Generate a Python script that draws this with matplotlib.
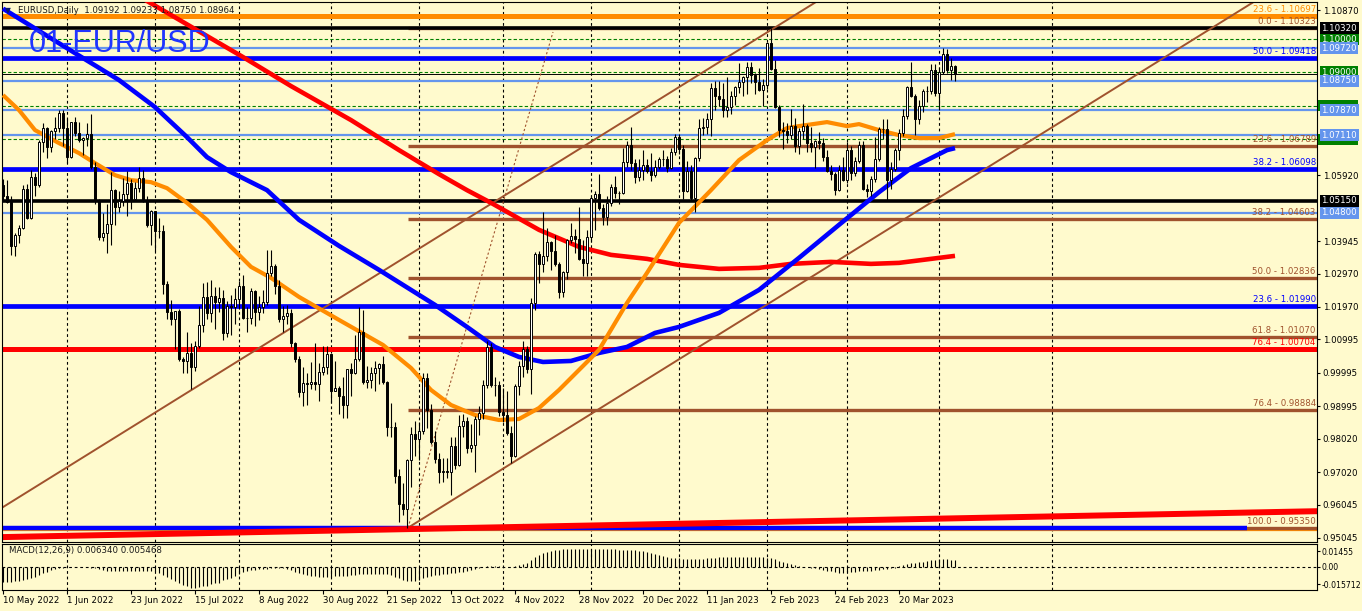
import matplotlib
matplotlib.use('Agg')
import matplotlib.pyplot as plt
from matplotlib.patches import Rectangle
from matplotlib.transforms import blended_transform_factory
import numpy as np

# ---------------- DATA ----------------
open_ = [
 1.0561,1.0530,1.0512,1.0380,1.0412,1.0435,1.0551,1.0464,1.0585,1.0563,1.0690,1.0734,1.0675,1.0724,1.0733,1.0778,
 1.0733,1.0647,1.0750,1.0718,1.0697,1.0703,1.0716,1.0617,1.0518,1.0407,1.0418,1.0446,1.0547,1.0495,1.0514,1.0534,1.0567,1.0520,1.0554,1.0583,1.0518,1.0443,
 1.0484,1.0426,1.0424,1.0265,1.0182,1.0161,1.0184,1.0040,1.0036,1.0060,1.0018,1.0080,1.0142,1.0227,1.0180,1.0229,1.0212,1.0223,1.0120,1.0199,1.0196,
 1.0222,1.0259,1.0163,1.0165,1.0246,1.0181,1.0196,1.0211,1.0298,1.0320,1.0260,1.0160,1.0170,1.0178,1.0088,1.0040,0.9943,0.9968,0.9966,0.9971,0.9965,1.0002,1.0018,
 1.0056,0.9945,0.9953,0.9929,0.9902,1.0010,1.0000,1.0041,1.0121,0.9973,0.9978,0.9998,1.0014,1.0027,0.9971,0.9837,0.9838,0.9690,0.9606,0.9592,0.9737,0.9817,
 0.9802,0.9826,0.9985,0.9889,0.9792,0.9740,0.9701,0.9706,0.9702,0.9780,0.9722,0.9839,0.9855,0.9774,0.9782,0.9862,0.9879,0.9964,1.0078,0.9963,0.9964,
 0.9882,0.9874,0.9818,0.9751,0.9960,1.0020,1.0072,1.0012,1.0209,1.0355,1.0325,1.0351,1.0392,1.0364,1.0325,1.0243,1.0303,1.0397,1.0409,1.0400,1.0342,1.0330,
 1.0406,1.0522,1.0535,1.0492,1.0467,1.0508,1.0556,1.0539,1.0538,1.0630,1.0682,1.0627,1.0585,1.0608,1.0623,1.0605,1.0592,1.0617,1.0640,1.0639,1.0612,1.0660,
 1.0705,1.0671,1.0545,1.0605,1.0522,1.0643,1.0732,1.0735,1.0761,1.0853,1.0828,1.0821,1.0788,1.0795,1.0828,1.0855,1.0870,1.0886,1.0915,1.0891,1.0870,1.0847,
 1.0862,1.0988,1.0911,1.0796,1.0727,1.0725,1.0712,1.0739,1.0678,1.0723,1.0739,1.0688,1.0675,1.0694,1.0687,1.0646,1.0605,1.0595,1.0546,1.0606,
 1.0576,1.0668,1.0597,1.0635,1.0682,1.0549,1.0544,1.0581,1.0641,1.0730,1.0731,1.0577,1.0610,1.0667,1.0718,1.0769,1.0856,1.0830,1.0760,1.0800,1.0843,1.0844,1.0906,
 1.0839,1.0900,1.0955,1.0907,1.0919]
high = [
 1.0579,1.0577,1.0530,1.0420,1.0444,1.0561,1.0564,1.0606,1.0599,1.0697,1.0748,1.0737,1.0727,1.0765,1.0787,1.0786,
 1.0764,1.0750,1.0765,1.0750,1.0705,1.0749,1.0774,1.0630,1.0520,1.0480,1.0506,1.0601,1.0550,1.0545,1.0582,1.0605,1.0580,1.0570,1.0615,1.0606,1.0530,1.0488,
 1.0486,1.0463,1.0443,1.0275,1.0219,1.0186,1.0190,1.0046,1.0122,1.0088,1.0096,1.0199,1.0269,1.0273,1.0278,1.0256,1.0258,1.0249,1.0216,1.0234,1.0254,
 1.0274,1.0294,1.0197,1.0254,1.0249,1.0230,1.0248,1.0368,1.0368,1.0325,1.0277,1.0201,1.0202,1.0192,1.0091,1.0050,1.0017,0.9999,1.0033,1.0090,1.0028,1.0079,1.0080,
 1.0057,1.0034,0.9960,0.9988,1.0011,1.0029,1.0112,1.0198,1.0187,1.0019,1.0017,1.0036,1.0030,1.0051,0.9976,0.9908,0.9851,0.9711,0.9670,0.9740,0.9837,0.9855,
 0.9851,0.9999,0.9998,0.9906,0.9826,0.9759,0.9744,0.9745,0.9807,0.9808,0.9872,0.9875,0.9866,0.9847,0.9871,0.9900,0.9977,1.0094,1.0088,0.9986,0.9976,
 0.9954,0.9946,0.9840,0.9966,1.0034,1.0094,1.0079,1.0223,1.0363,1.0366,1.0481,1.0434,1.0394,1.0414,1.0331,1.0306,1.0400,1.0449,1.0430,1.0497,1.0398,1.0428,
 1.0533,1.0545,1.0595,1.0505,1.0528,1.0566,1.0588,1.0545,1.0673,1.0695,1.0737,1.0640,1.0640,1.0667,1.0639,1.0659,1.0636,1.0646,1.0668,1.0648,1.0673,1.0714,
 1.0714,1.0681,1.0633,1.0623,1.0647,1.0760,1.0762,1.0777,1.0868,1.0874,1.0874,1.0868,1.0887,1.0843,1.0859,1.0927,1.0888,1.0930,1.0930,1.0899,1.0914,1.0880,
 1.0991,1.1033,1.0937,1.0802,1.0752,1.0749,1.0790,1.0763,1.0734,1.0805,1.0744,1.0736,1.0696,1.0720,1.0704,1.0667,1.0622,1.0602,1.0621,1.0646,
 1.0691,1.0680,1.0645,1.0694,1.0693,1.0564,1.0590,1.0706,1.0736,1.0760,1.0760,1.0632,1.0673,1.0730,1.0789,1.0860,1.0930,1.0836,1.0817,1.0850,1.0860,1.0926,1.0925,
 1.0917,1.0973,1.0969,1.0942,1.0923]
low = [
 1.0515,1.0508,1.0354,1.0349,1.0390,1.0430,1.0460,1.0460,1.0530,1.0556,1.0661,1.0644,1.0662,1.0700,1.0720,1.0680,
 1.0627,1.0642,1.0710,1.0690,1.0653,1.0680,1.0610,1.0505,1.0398,1.0396,1.0359,1.0382,1.0444,1.0483,1.0500,1.0470,1.0491,1.0513,1.0541,1.0512,1.0437,1.0382,
 1.0366,1.0405,1.0236,1.0162,1.0144,1.0072,1.0034,0.9999,0.9998,0.9952,1.0006,1.0075,1.0123,1.0160,1.0153,1.0131,1.0182,1.0097,1.0106,1.0113,1.0145,
 1.0190,1.0160,1.0123,1.0147,1.0141,1.0159,1.0180,1.0202,1.0290,1.0236,1.0152,1.0122,1.0145,1.0077,1.0033,0.9926,0.9901,0.9902,0.9951,0.9947,0.9914,0.9993,0.9997,
 0.9910,0.9944,0.9877,0.9864,0.9863,0.9930,0.9995,1.0035,0.9966,0.9955,0.9955,0.9945,0.9967,0.9966,0.9810,0.9807,0.9669,0.9553,0.9574,0.9535,0.9658,0.9749,
 0.9737,0.9815,0.9834,0.9787,0.9730,0.9670,0.9671,0.9685,0.9632,0.9711,0.9720,0.9807,0.9759,0.9762,0.9703,0.9812,0.9860,0.9955,0.9958,0.9930,0.9871,
 0.9852,0.9814,0.9730,0.9746,0.9934,0.9988,0.9998,0.9935,1.0189,1.0270,1.0302,1.0335,1.0309,1.0320,1.0223,1.0226,1.0280,1.0389,1.0358,1.0338,1.0290,1.0289,
 1.0392,1.0429,1.0487,1.0443,1.0443,1.0498,1.0524,1.0506,1.0535,1.0615,1.0607,1.0568,1.0574,1.0577,1.0599,1.0574,1.0585,1.0610,1.0618,1.0600,1.0609,1.0651,
 1.0656,1.0520,1.0542,1.0515,1.0483,1.0634,1.0713,1.0715,1.0709,1.0786,1.0799,1.0767,1.0766,1.0775,1.0802,1.0838,1.0828,1.0836,1.0869,1.0835,1.0844,1.0800,
 1.0851,1.0907,1.0794,1.0707,1.0669,1.0687,1.0701,1.0660,1.0656,1.0700,1.0660,1.0662,1.0613,1.0670,1.0633,1.0600,1.0577,1.0533,1.0544,1.0575,
 1.0568,1.0577,1.0588,1.0627,1.0548,1.0525,1.0530,1.0570,1.0635,1.0700,1.0516,1.0551,1.0605,1.0636,1.0710,1.0760,1.0826,1.0713,1.0745,1.0782,1.0810,1.0836,1.0830,
 1.0788,1.0896,1.0899,1.0876,1.0875]
close = [
 1.0530,1.0512,1.0380,1.0412,1.0435,1.0551,1.0464,1.0585,1.0563,1.0690,1.0734,1.0675,1.0724,1.0733,1.0778,1.0733,
 1.0647,1.0750,1.0718,1.0697,1.0703,1.0716,1.0617,1.0518,1.0407,1.0418,1.0446,1.0547,1.0495,1.0514,1.0534,1.0567,1.0520,1.0554,1.0583,1.0518,1.0443,1.0484,
 1.0426,1.0424,1.0265,1.0182,1.0161,1.0184,1.0040,1.0036,1.0060,1.0018,1.0080,1.0142,1.0227,1.0180,1.0229,1.0212,1.0223,1.0120,1.0199,1.0196,1.0222,
 1.0259,1.0163,1.0165,1.0246,1.0181,1.0196,1.0211,1.0298,1.0320,1.0260,1.0160,1.0170,1.0178,1.0088,1.0040,0.9943,0.9968,0.9966,0.9971,0.9965,1.0002,1.0018,1.0056,
 0.9945,0.9953,0.9929,0.9902,1.0010,1.0000,1.0041,1.0121,0.9973,0.9978,0.9998,1.0014,1.0027,0.9971,0.9837,0.9838,0.9690,0.9606,0.9592,0.9737,0.9817,0.9802,
 0.9826,0.9985,0.9889,0.9792,0.9740,0.9701,0.9706,0.9702,0.9780,0.9722,0.9839,0.9855,0.9774,0.9782,0.9862,0.9879,0.9964,1.0078,0.9963,0.9964,0.9882,
 0.9874,0.9818,0.9751,0.9960,1.0020,1.0072,1.0012,1.0209,1.0355,1.0325,1.0351,1.0392,1.0364,1.0325,1.0243,1.0303,1.0397,1.0409,1.0400,1.0342,1.0330,1.0406,
 1.0522,1.0535,1.0492,1.0467,1.0508,1.0556,1.0539,1.0538,1.0630,1.0682,1.0627,1.0585,1.0608,1.0623,1.0605,1.0592,1.0617,1.0640,1.0639,1.0612,1.0660,1.0705,
 1.0671,1.0545,1.0605,1.0522,1.0643,1.0732,1.0735,1.0761,1.0853,1.0828,1.0821,1.0788,1.0795,1.0828,1.0855,1.0870,1.0886,1.0915,1.0891,1.0870,1.0847,1.0862,
 1.0988,1.0911,1.0796,1.0727,1.0725,1.0712,1.0739,1.0678,1.0723,1.0739,1.0688,1.0675,1.0694,1.0687,1.0646,1.0605,1.0595,1.0546,1.0606,1.0576,
 1.0668,1.0597,1.0635,1.0682,1.0549,1.0544,1.0581,1.0641,1.0730,1.0731,1.0577,1.0610,1.0667,1.0718,1.0769,1.0856,1.0830,1.0760,1.0800,1.0843,1.0844,1.0906,1.0839,
 1.0900,1.0955,1.0907,1.0920,1.0896]

# moving averages read at sample bars (bar index, price)
ma_blue_idx = [0, 20, 29, 38, 46, 51, 57, 66, 74, 84, 94, 102, 108, 116, 123, 129, 135, 142, 149, 156,
               163, 169, 179, 189, 199, 209, 219, 227, 236, 238]
ma_blue_val = [1.1091, 1.0943, 1.0877, 1.0796, 1.0706, 1.0646, 1.0601, 1.0547, 1.0458, 1.0380, 1.0308,
               1.0248, 1.0203, 1.0137, 1.0077, 1.0047, 1.0032, 1.0035, 1.0059, 1.0077, 1.0119, 1.0137,
               1.0179, 1.0248, 1.0344, 1.0443, 1.0541, 1.0613, 1.0667, 1.0673]
ma_red_idx = [30, 36, 60, 72, 87, 99, 109, 116, 122, 134, 144, 152, 161, 169, 179, 189, 197, 207, 217,
              224, 232, 238]
ma_red_val = [1.1156, 1.1114, 1.0946, 1.0859, 1.0757, 1.0667, 1.0595, 1.0547, 1.0509, 1.0428, 1.0377,
              1.0353, 1.0341, 1.0323, 1.0311, 1.0314, 1.0326, 1.0332, 1.0326, 1.0329, 1.0341, 1.0350]
ma_orange_idx = [0, 4, 8, 14, 19, 23, 28, 32, 37, 41, 46, 51, 57, 62, 67, 74, 84, 95, 102, 107, 112,
                 118, 124, 129, 134, 139, 144, 149, 156, 161, 169, 177, 184, 191, 196, 199, 206, 211,
                 214, 219, 224, 229, 234, 238]
ma_orange_val = [1.0832, 1.0787, 1.0727, 1.0688, 1.0658, 1.0628, 1.0592, 1.0577, 1.0571, 1.0553, 1.0509,
                 1.0458, 1.0377, 1.0317, 1.0284, 1.0227, 1.0158, 1.0083, 1.0014, 0.9948, 0.9903, 0.9873,
                 0.9858, 0.9861, 0.9894, 0.9948, 1.0008, 1.0068, 1.0209, 1.0299, 1.0449, 1.0547, 1.0637,
                 1.0697, 1.0733, 1.0739, 1.0751, 1.0739, 1.0745, 1.0727, 1.0712, 1.0703, 1.0703, 1.0715]

macd_hist = [
 -0.0138,-0.0138,-0.0138,-0.0129,-0.0129,-0.0120,-0.0110,-0.0101,-0.0092,-0.0074,-0.0055,-0.0046,-0.0028,-0.0018,
 -0.0009,-0.0009,0.0,0.0,0.0,0.0,0.0,0.0,-0.0009,-0.0009,
 -0.0018,-0.0028,-0.0037,-0.0037,-0.0037,-0.0037,-0.0037,-0.0037,-0.0037,-0.0037,-0.0037,-0.0037,-0.0037,-0.0037,
 -0.0037,-0.0055,-0.0074,-0.0092,-0.0110,-0.0129,-0.0147,-0.0166,-0.0175,-0.0193,-0.0193,-0.0184,-0.0175,-0.0175,
 -0.0156,-0.0147,-0.0147,-0.0120,-0.0110,-0.0101,-0.0083,
 -0.0064,-0.0046,-0.0037,-0.0028,-0.0028,-0.0018,-0.0018,-0.0018,-0.0009,-0.0009,-0.0009,-0.0009,-0.0018,-0.0028,-0.0046,
 -0.0055,-0.0064,-0.0074,-0.0083,-0.0083,-0.0092,-0.0092,-0.0092,
 -0.0092,-0.0083,-0.0083,-0.0083,-0.0083,-0.0074,-0.0074,-0.0064,-0.0064,-0.0064,-0.0064,-0.0064,-0.0064,-0.0064,
 -0.0064,-0.0074,-0.0092,-0.0101,-0.0120,-0.0129,-0.0129,-0.0129,-0.0120,
 -0.0101,-0.0092,-0.0083,-0.0074,-0.0074,-0.0064,-0.0064,-0.0055,-0.0055,-0.0046,-0.0046,-0.0037,-0.0028,-0.0018,
 -0.0009,0.0,0.0009,0.0009,0.0009,0.0009,
 0.0,0.0,0.0,0.0009,0.0018,0.0028,0.0037,0.0064,0.0092,0.0110,0.0129,0.0138,0.0147,0.0156,0.0156,0.0166,
 0.0166,0.0166,0.0166,0.0166,0.0166,0.0166,0.0166,0.0166,0.0166,0.0166,0.0166,0.0166,0.0166,
 0.0156,0.0156,0.0156,0.0156,0.0156,
 0.0147,0.0147,0.0138,0.0129,0.0120,0.0110,0.0101,0.0092,0.0083,0.0083,0.0083,0.0074,0.0074,0.0074,0.0074,0.0074,0.0074,
 0.0083,0.0083,0.0083,0.0092,0.0092,0.0092,0.0092,0.0092,0.0092,0.0092,0.0092,0.0092,0.0092,0.0092,0.0092,0.0083,0.0083,0.0074,
 0.0055,0.0046,0.0037,0.0028,0.0018,0.0009,0.0,0.0,-0.0009,-0.0009,-0.0018,-0.0028,-0.0037,-0.0037,-0.0046,-0.0055,-0.0055,
 -0.0046,-0.0046,-0.0046,-0.0037,-0.0037,-0.0037,-0.0037,-0.0028,-0.0028,-0.0018,-0.0018,-0.0009,-0.0009,
 0.0009,0.0018,0.0028,0.0037,0.0037,0.0046,0.0046,0.0055,0.0064,0.0064,0.0074,0.0074,0.0074,0.0064,0.0064]

date_tick_idx = [0, 16, 32, 48, 64, 80, 96, 112, 128, 144, 160, 176, 192, 208, 224]
date_labels = ['10 May 2022', '1 Jun 2022', '23 Jun 2022', '15 Jul 2022', '8 Aug 2022', '30 Aug 2022',
               '21 Sep 2022', '13 Oct 2022', '4 Nov 2022', '28 Nov 2022', '20 Dec 2022', '11 Jan 2023',
               '2 Feb 2023', '24 Feb 2023', '20 Mar 2023']
month_sep_idx = [16, 38, 59, 82, 104, 125, 147, 169, 191, 211, 234, 262.25]

price_ticks = [1.10870, 1.05920, 1.03945, 1.02970, 1.01970, 1.00995, 0.99995, 0.98995, 0.98020,
               0.97020, 0.96045, 0.95045]
price_tick_labels = ['1.10870', '1.05920', '1.03945', '1.02970', '1.01970', '1.00995', '0.99995',
                     '0.98995', '0.98020', '0.97020', '0.96045', '0.95045']
macd_ticks = [0.01455, 0.0, -0.015712]
macd_tick_labels = ['0.01455', '0.00', '-0.015712']

# horizontal levels
green_levels = [1.10000, 1.09000]
green_hidden_levels = [1.08000, 1.07000]
cornflower_levels = [1.09720, 1.08750, 1.07870, 1.07110, 1.04800]
black_levels = [1.10320, 1.05150]
blue_fib_levels = [1.09418, 1.06098, 1.01990]
blue_fib_base = 0.95350
red_level = 1.00704
orange_level = 1.10697
orange_base = 0.95270
bid_price = 1.08964
brown_fib_start = 101.25
brown_fib_levels = [1.10323, 1.06789, 1.04603, 1.02836, 1.01070, 0.98884, 0.95350]

fib_text = ['23.6 - 1.10697', '0.0 - 1.10323', '50.0 - 1.09418', '23.6 - 1.06789', '38.2 - 1.06098',
            '38.2 - 1.04603', '50.0 - 1.02836', '23.6 - 1.01990', '61.8 - 1.01070', '76.4 - 1.00704',
            '76.4 - 0.98884', '100.0 - 0.95350']
fib_price = [1.10697, 1.10323, 1.09418, 1.06789, 1.06098, 1.04603, 1.02836, 1.01990, 1.01070, 1.00704,
             0.98884, 0.95350]

# trend lines (bar index, price)
upper_channel = [(0, 0.9597), (196, 1.1057)]
lower_channel = [(101.25, 0.9535), (312.25, 1.1108)]
dotted_ray = [(101.25, 0.9535), (137.5, 1.1021)]
red_trend = [(-1, 0.95068), (330, 0.95850)]

# ---------------- STYLE ----------------
BG = '#FFFACD'
SIENNA = '#A0522D'
ORANGE = '#FF8C00'
CORN = '#6495ED'
GREEN = '#008000'
BLUE = '#0000FF'
RED = '#FF0000'
FONT = 'DejaVu Sans'
FS = 6.2
fib_color = [ORANGE, SIENNA, BLUE, SIENNA, BLUE, SIENNA, SIENNA, BLUE, SIENNA, RED, SIENNA, SIENNA]

W, H = 1362, 611
fig = plt.figure(figsize=(W / 100, H / 100), dpi=100, facecolor=BG)


def rect(x0, y0, x1, y1):
    return [x0 / W, 1 - y1 / H, (x1 - x0) / W, (y1 - y0) / H]


ax = fig.add_axes(rect(2, 2, 1317, 541.5), facecolor=BG)
ax2 = fig.add_axes(rect(2, 543.5, 1317, 589.5), facecolor=BG)

XL = (-0.25, 328.5)
ax.set_xlim(*XL)
ax.set_ylim(0.94938, 1.11110)
ax2.set_xlim(*XL)
ax2.set_ylim(-0.0207, 0.02162)

for a in (ax, ax2):
    for s in a.spines.values():
        s.set_color('black')
        s.set_linewidth(0.8)
    for xs in month_sep_idx:
        a.axvline(xs, color='black', lw=0.8, ls=(0, (2.5, 2.5)), zorder=1)

# horizontal full-width levels
for v in green_levels + green_hidden_levels:
    ax.axhline(v, color=GREEN, lw=0.8, ls=(0, (3, 2)), zorder=2)
for v in cornflower_levels:
    ax.axhline(v, color=CORN, lw=1.6, zorder=2)
for v in black_levels:
    ax.axhline(v, color='black', lw=2.6, zorder=2.2)
for v in blue_fib_levels:
    ax.axhline(v, color=BLUE, lw=3.4, zorder=2.1)
ax.axhline(red_level, color=RED, lw=3.6, zorder=2.1)
ax.axhline(orange_level, color=ORANGE, lw=3.6, zorder=2.1)
ax.axhline(orange_base, color=ORANGE, lw=0.9, zorder=2)
ax.hlines(blue_fib_base, XL[0], 311, color=BLUE, lw=3.2, zorder=2.1)
ax.axhline(bid_price, color='black', lw=0.7, zorder=2.3)

# brown fib levels from the low
for v in brown_fib_levels:
    ax.hlines(v, brown_fib_start, XL[1], color=SIENNA, lw=2.4, zorder=2.0)

# trend lines
ax.axline(upper_channel[0], upper_channel[1], color=SIENNA, lw=1.4, zorder=2.5)
(lx0, ly0), (lx1, ly1) = lower_channel
slope = (ly1 - ly0) / (lx1 - lx0)
ax.plot([lx0, lx1, lx1 + 20], [ly0, ly1, ly1 + 20 * slope], color=SIENNA, lw=1.4, zorder=2.5)
ax.plot([p[0] for p in dotted_ray], [p[1] for p in dotted_ray], color=SIENNA, lw=0.8,
        ls=(0, (2, 2)), zorder=2.5)
ax.plot([p[0] for p in red_trend], [p[1] for p in red_trend], color=RED, lw=4.3, zorder=2.5,
        solid_capstyle='butt')

# moving averages
ax.plot(ma_red_idx, ma_red_val, color=RED, lw=3.3, zorder=3, solid_capstyle='butt')
ax.plot(ma_blue_idx, ma_blue_val, color=BLUE, lw=3.3, zorder=3, solid_capstyle='butt')
ax.plot(ma_orange_idx, ma_orange_val, color=ORANGE, lw=3.0, zorder=3, solid_capstyle='butt')

# candles
o = np.array(open_); h = np.array(high); l = np.array(low); c = np.array(close)
xi = np.arange(len(c))
ax.vlines(xi, l, h, color='black', lw=0.8, zorder=5)
bot = np.minimum(o, c)
hgt = np.maximum(np.abs(c - o), 0.00012)
cols = np.where(c >= o, 'white', 'black')
ax.bar(xi, hgt, bottom=bot, width=0.62, color=cols, edgecolor='black', linewidth=0.7, zorder=6)

# fib labels
for t, v, col in zip(fib_text, fib_price, fib_color):
    ax.annotate(t, xy=(328.2, v), xytext=(0, 1.6), textcoords='offset points', ha='right', va='bottom',
                fontsize=FS, color=col, family=FONT, zorder=7)

# title text
ax.text(27 / 1315 * (XL[1] - XL[0]) + XL[0], 1.10870 - (52 - 10) / 3336, '01-EUR/USD',
        fontsize=22, family='Liberation Sans', color='#2035ff', va='baseline', ha='left', zorder=4)

# header
fig.text(5 / W, 1 - 10.5 / H, '▼', fontsize=5.5, color='#0a1a6e', va='center', ha='left', family=FONT)
fig.text(18 / W, 1 - 10.5 / H, 'EURUSD,Daily  1.09192 1.09233 1.08750 1.08964', fontsize=FS,
         color='#1a1a1a', va='center', ha='left', family=FONT)

# right price axis
ax.set_xticks([])
ax.yaxis.tick_right()
ax.set_yticks(price_ticks)
ax.set_yticklabels(price_tick_labels)
ax.tick_params(axis='y', length=2.5, width=0.8, pad=1.6, labelsize=FS, colors='black')
for lab in ax.get_yticklabels():
    lab.set_family(FONT)

# axis boxes: hidden green markers peeking behind other boxes
btr = blended_transform_factory(ax.transAxes, ax.transData)
for v in green_hidden_levels:
    ax.add_patch(Rectangle((1.0 + 1.5 / 1315, v - 0.00165), 40 / 1315, 0.0033, transform=btr,
                           clip_on=False, fc=GREEN, ec='none', zorder=9))
box_vals = green_levels + cornflower_levels + black_levels
box_cols = [GREEN] * len(green_levels) + [CORN] * len(cornflower_levels) + ['black'] * len(black_levels)
for v, col in zip(box_vals, box_cols):
    ax.annotate('%.5f' % v, xy=(1.0, v), xycoords=('axes fraction', 'data'), xytext=(3.2, 0),
                textcoords='offset points', ha='left', va='center', fontsize=FS, color='white',
                family=FONT, annotation_clip=False, zorder=10,
                bbox=dict(boxstyle='square,pad=0.18', fc=col, ec=col, lw=0))

# MACD panel
ax2.axhline(0, color='black', lw=0.8, ls=(0, (2.5, 2.5)), zorder=2)
ax2.vlines(np.arange(len(macd_hist)), 0, macd_hist, color='black', lw=0.8, zorder=3)
ax2.text(7 / 1315 * (XL[1] - XL[0]) + XL[0], 0.0148, 'MACD(12,26,9) 0.006340 0.005468', fontsize=FS,
         color='#1a1a1a', va='center', ha='left', family=FONT)
ax2.yaxis.tick_right()
ax2.set_yticks(macd_ticks)
ax2.set_yticklabels(macd_tick_labels)
ax2.tick_params(axis='y', length=2, width=0.8, pad=1.0, labelsize=5.6, colors='black')
ax2.set_xticks(date_tick_idx)
ax2.set_xticklabels(date_labels, ha='left')
ax2.tick_params(axis='x', length=3, width=0.8, pad=1.5, labelsize=FS, colors='black')
for lab in ax2.get_xticklabels() + ax2.get_yticklabels():
    lab.set_family(FONT)

fig.savefig('out.png', dpi=100, facecolor=BG)
